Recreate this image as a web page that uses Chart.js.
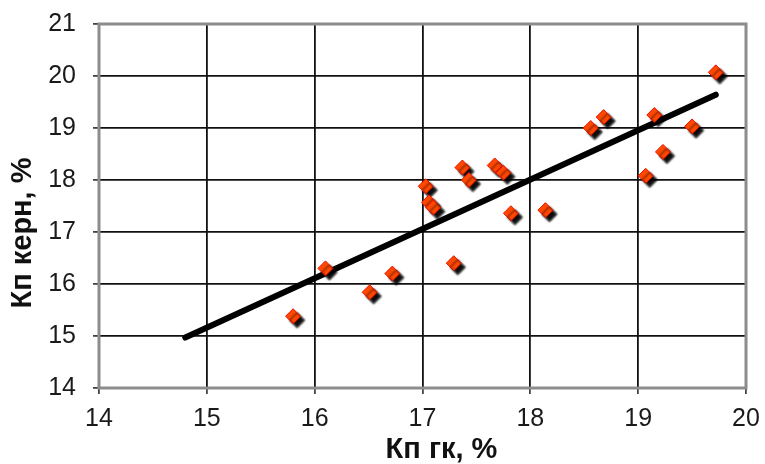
<!DOCTYPE html>
<html>
<head>
<meta charset="utf-8">
<script src="https://cdn.jsdelivr.net/npm/chart.js@4/dist/chart.umd.min.js"></script>
<style>
  html, body { margin: 0; padding: 0; background: #fff; }
  #wrap { width: 765px; height: 464px; }
</style>
</head>
<body>
<div id="wrap"><canvas id="chart" width="765" height="464"></canvas></div>
<script>
// Kп ГК (x) vs Kп керн (y)
const gkValues = [15.80, 16.10, 16.51, 16.72, 17.03, 17.06, 17.10, 17.29, 17.37, 17.43,
                  17.67, 17.75, 17.82, 18.14, 18.56, 18.68, 19.07, 19.15, 19.23, 19.50, 19.72];
const coreValues = [15.38, 16.30, 15.84, 16.20, 17.88, 17.57, 17.47, 16.40, 18.24, 18.00,
                    18.28, 18.14, 17.36, 17.42, 19.00, 19.21, 18.08, 19.25, 18.54, 19.03, 20.07];

// trend line ends
const trendX = [14.8, 19.72];
const trendY = [14.97, 19.64];

const xTicks = [14, 15, 16, 17, 18, 19, 20];
const yTicks = [14, 15, 16, 17, 18, 19, 20, 21];

const xTitle = 'Кп гк, %';
const yTitle = 'Кп керн, %';

const toPoints = (xs, ys) => xs.map((x, i) => ({ x: x, y: ys[i] }));

// black drop shadow under the markers
const shadowPlugin = {
    id: 'markerShadow',
    beforeDatasetDraw(chart, args) {
        if (args.index !== 1) return;
        const ctx = chart.ctx;
        ctx.save();
        ctx.shadowColor = 'rgba(0,0,0,0.95)';
        ctx.shadowOffsetX = 4;
        ctx.shadowOffsetY = 4;
        ctx.shadowBlur = 2;
    },
    afterDatasetDraw(chart, args) {
        if (args.index !== 1) return;
        chart.ctx.restore();
    }
};

// grey frame round the plot area
const framePlugin = {
    id: 'frame',
    beforeDatasetsDraw(chart) {
        const a = chart.chartArea, ctx = chart.ctx;
        ctx.save();
        ctx.strokeStyle = '#8c8c8c';
        ctx.lineWidth = 3;
        ctx.strokeRect(a.left, a.top, a.right - a.left, a.bottom - a.top);
        ctx.restore();
    }
};

// axis titles sit off-centre in the original, so draw them by hand
const titlePlugin = {
    id: 'axisTitles',
    afterDraw(chart) {
        const a = chart.chartArea, ctx = chart.ctx;
        ctx.save();
        ctx.fillStyle = '#111';
        ctx.font = "bold 29px 'Liberation Sans', Arial, sans-serif";
        ctx.textAlign = 'center';
        ctx.textBaseline = 'middle';
        ctx.fillText(xTitle, (a.left + a.right) / 2 + 19, a.bottom + 62);
        ctx.translate(23, (a.top + a.bottom) / 2 + 27);
        ctx.rotate(-Math.PI / 2);
        ctx.fillText(yTitle, 0, 0);
        ctx.restore();
    }
};

Chart.defaults.font.family = "'Liberation Sans', Arial, sans-serif";
Chart.defaults.color = '#1a1a1a';

new Chart(document.getElementById('chart'), {
    type: 'scatter',
    data: {
        datasets: [
            {
                type: 'line',
                label: 'trend',
                data: toPoints(trendX, trendY),
                borderColor: '#000',
                borderWidth: 6,
                borderCapStyle: 'round',
                pointRadius: 0,
                fill: false,
                order: 2
            },
            {
                label: 'Kп',
                data: toPoints(gkValues, coreValues),
                pointStyle: 'rectRot',
                pointRadius: 7.5,
                backgroundColor: '#ff4800',
                borderColor: '#e81000',
                borderWidth: 1,
                order: 1
            }
        ]
    },
    options: {
        responsive: false,
        animation: false,
        events: [],
        layout: { padding: { top: 24, right: 19, left: 0, bottom: 0 } },
        plugins: {
            legend: { display: false },
            tooltip: { enabled: false }
        },
        scales: {
            x: {
                type: 'linear',
                min: 14, max: 20,
                afterBuildTicks: s => { s.ticks = xTicks.map(v => ({ value: v })); },
                afterFit: s => { s.height = 76; s.paddingLeft = 0; s.paddingRight = 0; },
                grid: { color: '#111', lineWidth: 1.8, tickLength: 6, drawTicks: true, tickColor: '#444' },
                border: { display: false },
                ticks: { font: { size: 25 }, padding: 10, color: '#1a1a1a' },
                title: { display: false }
            },
            y: {
                type: 'linear',
                min: 14, max: 21,
                afterBuildTicks: s => { s.ticks = yTicks.map(v => ({ value: v })); },
                afterFit: s => { s.width = 99; s.paddingTop = 0; s.paddingBottom = 0; },
                grid: { color: '#111', lineWidth: 1.8, tickLength: 6, drawTicks: true, tickColor: '#444' },
                border: { display: false },
                ticks: { font: { size: 25 }, padding: 17, color: '#1a1a1a' },
                title: { display: false }
            }
        }
    },
    plugins: [framePlugin, shadowPlugin, titlePlugin]
});
</script>
</body>
</html>
